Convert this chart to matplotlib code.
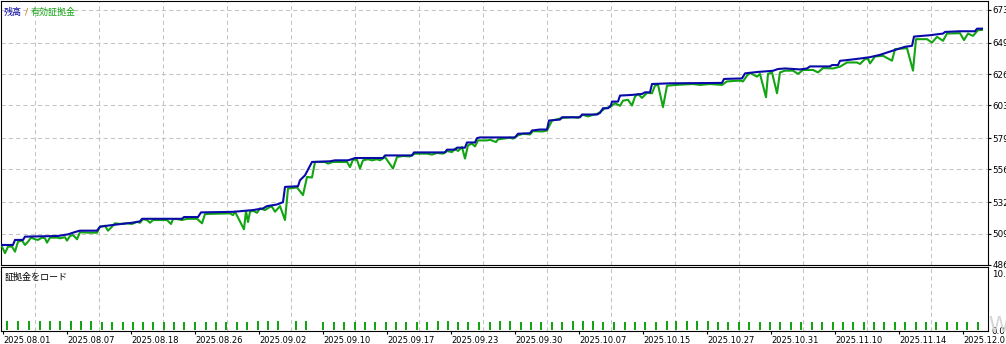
import matplotlib
matplotlib.use("Agg")
import matplotlib.pyplot as plt
from matplotlib.ticker import FixedLocator

plt.rcParams['font.family'] = ['DejaVu Sans', 'Noto Sans CJK JP']

# trade sequence position vs balance / equity
bal_x = [2, 13, 15, 23, 25, 58, 68, 76, 80, 97, 100, 110, 120, 132, 140, 142, 182, 184, 198,
         201, 233, 253, 263, 267, 277, 283, 285, 298, 300, 305, 312, 330, 335, 348, 352, 355,
         383, 385, 412, 414, 445, 447, 455, 457, 465, 467, 475, 477, 480, 515, 518, 530, 532,
         540, 547, 549, 560, 562, 580, 582, 597, 600, 603, 608, 611, 612, 618, 620, 632, 642,
         645, 650, 652, 670, 722, 724, 742, 745, 757, 773, 778, 785, 800, 807, 810, 830, 832,
         838, 840, 850, 860, 870, 880, 890, 905, 912, 914, 930, 943, 945, 960, 975, 977, 982]
bal_v = [500.6, 500.6, 504.3, 504.3, 506.7, 507.2, 508.4, 510.3, 511.1, 511.1, 514.0, 515.0,
         515.9, 516.9, 517.9, 519.8, 519.8, 521.1, 521.1, 524.5, 524.9, 526.2, 527.4, 529.1,
         530.3, 532.0, 543.2, 543.7, 548.1, 551.7, 561.5, 562.0, 562.7, 562.7, 563.6, 564.4,
         564.4, 566.3, 566.3, 568.5, 568.5, 570.5, 570.5, 572.0, 572.0, 575.8, 575.8, 579.0,
         579.5, 579.5, 582.2, 582.6, 584.6, 585.3, 585.3, 591.9, 592.6, 594.3, 594.3, 596.3,
         596.3, 597.5, 600.9, 600.9, 603.1, 605.8, 605.8, 610.2, 610.7, 611.4, 612.6, 612.6,
         618.7, 619.2, 619.5, 622.4, 622.8, 626.5, 627.5, 628.4, 629.7, 630.1, 629.4, 630.1,
         631.6, 631.6, 632.6, 632.6, 635.7, 636.5, 637.4, 638.4, 640.1, 642.5, 646.0, 646.7,
         653.5, 654.5, 655.7, 656.9, 657.4, 657.4, 659.3, 659.3]

eq_x = [2, 5, 8, 12, 15, 18, 22, 25, 28, 31, 35, 38, 42, 45, 47, 50, 57, 60, 65, 67, 70, 73,
        77, 80, 90, 97, 100, 105, 108, 112, 115, 120, 127, 132, 137, 140, 143, 147, 150, 153,
        167, 171, 173, 177, 182, 187, 197, 202, 205, 230, 233, 235, 244, 246, 248, 250, 253,
        257, 260, 265, 270, 272, 275, 280, 285, 288, 297, 303, 307, 312, 315, 325, 328, 333,
        347, 350, 353, 357, 360, 363, 368, 372, 377, 380, 385, 393, 397, 403, 410, 415, 427,
        432, 437, 443, 447, 452, 455, 458, 462, 465, 468, 472, 475, 478, 487, 490, 496, 498,
        510, 513, 518, 523, 530, 533, 543, 547, 552, 563, 573, 578, 583, 588, 593, 597, 600,
        605, 610, 615, 620, 623, 628, 632, 635, 638, 642, 647, 652, 655, 658, 663, 667, 680,
        693, 700, 710, 722, 727, 740, 743, 747, 750, 757, 760, 766, 768, 772, 777, 780, 785,
        793, 798, 803, 813, 818, 823, 833, 840, 847, 857, 860, 865, 868, 870, 875, 883, 892,
        895, 907, 913, 916, 927, 932, 937, 943, 947, 960, 964, 968, 973, 978, 982]
eq_v = [499.4, 494.6, 499.4, 499.4, 495.7, 503.0, 503.8, 500.6, 503.0, 506.0, 504.8, 504.3,
        506.0, 505.5, 502.3, 506.0, 506.0, 505.5, 506.3, 503.8, 507.2, 507.9, 504.8, 509.9,
        509.6, 509.6, 514.0, 514.7, 511.1, 514.0, 516.5, 516.0, 516.5, 516.0, 517.6, 516.9,
        519.6, 518.9, 516.9, 518.9, 518.9, 516.0, 519.6, 519.6, 518.9, 519.8, 519.8, 516.5,
        523.3, 523.8, 522.5, 525.0, 512.1, 525.5, 517.4, 525.0, 525.7, 524.2, 527.4, 526.2,
        528.6, 528.6, 525.0, 529.1, 518.9, 542.0, 542.8, 537.2, 550.5, 550.1, 561.5, 561.5,
        560.3, 561.5, 561.5, 557.8, 563.2, 563.0, 556.7, 562.7, 563.5, 562.7, 563.5, 562.7,
        565.1, 556.7, 565.1, 565.9, 565.6, 567.6, 567.6, 566.9, 568.1, 567.6, 569.5, 568.8,
        571.3, 569.5, 572.4, 564.0, 573.7, 574.9, 572.9, 577.3, 577.3, 577.8, 576.1, 578.1,
        579.3, 578.6, 581.0, 582.2, 581.7, 584.1, 583.9, 584.6, 591.9, 593.9, 594.3, 593.9,
        596.1, 594.9, 596.1, 596.8, 598.0, 600.9, 601.7, 604.6, 602.7, 606.5, 607.1, 602.9,
        609.5, 611.4, 608.5, 612.2, 611.9, 617.5, 618.2, 601.7, 617.5, 618.2, 618.7, 618.0,
        618.7, 618.0, 620.6, 621.2, 620.6, 624.8, 626.8, 624.1, 626.1, 609.0, 626.1, 627.2,
        611.9, 627.2, 628.5, 628.5, 626.1, 629.0, 629.0, 627.2, 630.4, 630.1, 631.4, 634.5,
        634.5, 633.4, 637.0, 637.4, 633.8, 638.9, 639.4, 635.8, 644.3, 645.0, 628.5, 651.6,
        651.6, 649.1, 653.3, 650.4, 655.7, 656.0, 650.9, 655.7, 654.0, 658.2, 658.4]

# margin load
load_x = [7, 18, 29, 40, 50, 60, 71, 81, 91, 102, 112, 123, 133, 143, 153, 164, 174, 184, 195,
          206, 216, 226, 237, 247, 258, 268, 278, 296, 306, 323, 334, 344, 355, 365, 375, 386,
          396, 406, 417, 427, 438, 448, 458, 468, 479, 490, 500, 510, 521, 531, 541, 552, 562,
          573, 583, 593, 603, 614, 625, 635, 645, 656, 667, 676, 687, 697, 708, 718, 728, 739,
          749, 760, 770, 780, 791, 801, 812, 822, 833, 843, 853, 864, 874, 884, 895, 905, 916,
          926, 936, 947, 957, 967, 978]
load_v = [1.6, 1.6, 1.6, 1.6, 1.6, 1.6, 1.6, 1.6, 1.6, 1.45, 1.45, 1.45, 1.45, 1.45, 1.45,
          1.45, 1.45, 1.45, 1.45, 1.45, 1.45, 1.45, 1.45, 1.45, 1.6, 1.6, 1.6, 1.6, 1.6, 1.45,
          1.45, 1.45, 1.45, 1.45, 1.45, 1.45, 1.45, 1.45, 1.45, 1.45, 1.6, 1.6, 1.45, 1.45,
          1.45, 1.45, 1.6, 1.6, 1.45, 1.45, 1.45, 1.45, 1.45, 1.6, 1.6, 1.6, 1.45, 1.45, 1.45,
          1.45, 1.45, 1.45, 1.6, 1.6, 1.6, 1.6, 1.6, 1.45, 1.45, 1.45, 1.45, 1.45, 1.45, 1.45,
          1.45, 1.45, 1.45, 1.45, 1.45, 1.45, 1.45, 1.45, 1.45, 1.45, 1.45, 1.45, 1.45, 1.45,
          1.45, 1.45, 1.45, 1.45, 1.45]

date_labels = ['2025.08.01', '2025.08.07', '2025.08.18', '2025.08.26', '2025.09.02',
               '2025.09.10', '2025.09.17', '2025.09.23', '2025.09.30', '2025.10.07',
               '2025.10.15', '2025.10.27', '2025.10.31', '2025.11.10', '2025.11.14',
               '2025.12.01']
y_ticks = [486, 509, 532, 556, 579, 603, 626, 649, 673]
y_labels = ['486', '509', '532', '556', '579', '603', '626', '649', '673']

BLUE = '#0a0aa8'
GREEN = '#12a412'
GRID = '#c4c4c4'
W, H = 1006, 344

fig = plt.figure(figsize=(W / 100, H / 100), dpi=100)
ax = fig.add_axes([0.5 / W, (H - 265) / H, 987 / W, 264 / H])
ax2 = fig.add_axes([0.5 / W, (H - 331) / H, 987 / W, 64 / H])

major = [3 + 64 * i for i in range(len(date_labels))]
minor = [3 + 32 * i for i in range(31)]

for a in (ax, ax2):
    a.set_xlim(0.5, 987.5)
    a.xaxis.set_major_locator(FixedLocator(major))
    a.xaxis.set_minor_locator(FixedLocator(minor))
    a.grid(True, which='minor', axis='x', color=GRID, linestyle=(0, (4, 3)), linewidth=0.75)
    a.tick_params(axis='x', which='minor', length=0)
    for s in a.spines.values():
        s.set_linewidth(0.8)
        s.set_color('black')
    a.set_facecolor('white')

ax.plot(eq_x, eq_v, color=GREEN, linewidth=1.5, zorder=3)
ax.plot(bal_x, bal_v, color=BLUE, linewidth=1.5, zorder=4)
ax.set_ylim(485.9, 679.6)
ax.set_yticks(y_ticks)
ax.set_yticklabels(y_labels)
ax.grid(True, which='major', axis='y', color=GRID, linestyle=(0, (4, 3)), linewidth=0.75)
ax.yaxis.tick_right()
ax.tick_params(axis='y', length=2.5, width=0.8, pad=1, labelsize=6.3)
ax.tick_params(axis='x', which='major', length=0, labelbottom=False)
ax.set_axisbelow(True)

ax2.bar(load_x, load_v, width=2.2, color=GREEN, zorder=3)
ax2.set_ylim(-0.1, 11.24)
ax2.set_yticks([0, 10])
ax2.set_yticklabels(['0.0', '10.0'])
ax2.yaxis.tick_right()
ax2.tick_params(axis='y', length=0, pad=3, labelsize=6.3)
ax2.set_xticklabels(date_labels)
ax2.tick_params(axis='x', which='major', length=2.5, width=0.8, pad=1, labelsize=6.0)
for lbl in ax2.get_xticklabels():
    lbl.set_horizontalalignment('left')
ax2.set_axisbelow(True)

fig.text(4 / W, 1 - 12 / H, '残高', color=BLUE, fontsize=6.5, va='center')
fig.text(25 / W, 1 - 12 / H, '/', color='#d07818', fontsize=6.5, va='center')
fig.text(31 / W, 1 - 12 / H, '有効証拠金', color=GREEN, fontsize=6.5, va='center')
fig.text(5 / W, 1 - 277 / H, '証拠金をロード', color='black', fontsize=6.5, va='center')
fig.text(988 / W, 1 - 326 / H, 'W', color='#d4d4d4', fontsize=15, va='center', zorder=0)

fig.savefig('out.png', dpi=100, facecolor='white')
